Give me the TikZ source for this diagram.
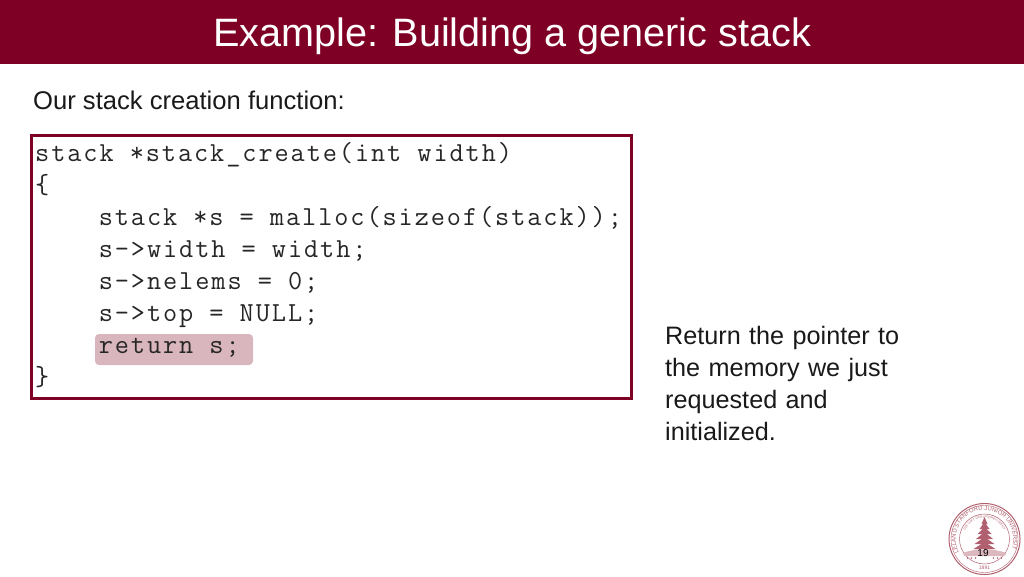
\documentclass[tikz,border=0pt]{standalone}
\usepackage{fontspec}
\setmainfont{Liberation Sans}
\setmonofont[LetterSpace=7]{Latin Modern Mono}
\usetikzlibrary{positioning,shapes.geometric,decorations.text}
\definecolor{cardinal}{HTML}{7F0025}
\definecolor{hilite}{HTML}{D9B5BE}
\definecolor{sealred}{HTML}{B0606E}
\newcommand{\sealtype}{\fontsize{5.9}{6}\selectfont}
\newcommand{\mottotype}{\fontsize{3.2}{4}\selectfont}
\tikzset{
  codeline/.style={inner sep=0pt,anchor=west,text height=19pt,text depth=6pt,text=black!85,
    font=\ttfamily\fontsize{27.5}{32}\selectfont},
  bodytext/.style={inner sep=0pt,anchor=west,text=black!90,font=\fontsize{25.6}{32}\selectfont},
  sealline/.style={draw=sealred,line width=0.7pt}
}
\begin{document}
\begin{tikzpicture}[x=1pt,y=-1pt]
	\useasboundingbox (0,0) rectangle (1024,576);
	\node[fill=cardinal,minimum width=1024pt,minimum height=63.5pt,inner sep=0pt,anchor=north west] (banner) at (0,0) {};
	\node[text=white,inner sep=0pt,font=\fontsize{39.6}{44}\selectfont] (title) at (512,36) {Example: Building a generic stack};
	\node[bodytext] (intro) at (33,100) {Our stack creation function:};

	\node[draw=cardinal,line width=3pt,minimum width=600pt,minimum height=263pt,inner sep=0pt] (codebox) at (331.5,267) {};
	\node[fill=hilite,rounded corners=4pt,minimum width=158pt,minimum height=31pt,inner sep=0pt] (retmark) at (174,349.5) {};

	\node[codeline] (head) at (35,155) {stack *stack\_create(int width)};
	\node[codeline,below=32pt of head.west,anchor=west] (openbr) {\{};
	\node[codeline,below=32pt of openbr.west,anchor=west,xshift=63.6pt] (malloc) {stack *s = malloc(sizeof(stack));};
	\node[codeline,below=32pt of malloc.west,anchor=west] (width) {s->width = width;};
	\node[codeline,below=32pt of width.west,anchor=west] (nelems) {s->nelems = 0;};
	\node[codeline,below=32pt of nelems.west,anchor=west] (top) {s->top = NULL;};
	\node[codeline,below=32pt of top.west,anchor=west] (ret) {return s;};
	\node[codeline,below=192pt of openbr.west,anchor=west] (closebr) {\}};

	\node[bodytext,font=\fontsize{25.2}{32}\selectfont,text width=260pt,align=left,anchor=north west] (note) at (665,326) {Return the pointer to\\the memory we just\\requested and\\initialized.};

	% seal
	\node[circle,draw=sealred,line width=1pt,minimum size=71pt,inner sep=0pt] (seal) at (984.5,539) {};
	\begin{scope}[shift={(seal.center)},x=1pt,y=1pt]
		\draw[sealline,line width=0.4pt] (0,0) circle (33.5pt);
		\draw[sealline,line width=0.5pt] (0,0) circle (25pt);
		\path[decorate,decoration={text along path,text align=center,text color=sealred,
			text={|\sealtype|LELAND STANFORD JUNIOR UNIVERSITY}}]
			(-27.2,-9.4) arc[start angle=199,end angle=-19,radius=28.8pt];
		\path[decorate,decoration={text along path,text align=center,text color=sealred,
			text={|\mottotype|DIE LUFT DER FREIHEIT WEHT}}]
			(-21,0) arc[start angle=180,end angle=0,radius=21pt];
		\fill[sealred] (-1,-16) rectangle (1,6);
		\foreach \ty/\tw in {-10/11,-5/10,0/8.5,5/7,10/5,15/3}
			\fill[sealred] (-\tw pt,\ty pt) -- (\tw pt,\ty pt) -- (0,\ty pt+7pt) -- cycle;
		\fill[sealred!45] (-22,-14) .. controls (-8,-9) and (8,-9) .. (22,-14) -- (20,-17) -- (-20,-17) -- cycle;
		\foreach \dx in {-17,-13,-9,9,13,17}
			\fill[sealred] (\dx pt,-19pt) circle (0.9pt);
		\node[inner sep=0pt,text=sealred,font=\fontsize{5}{6}\selectfont] (sealyear) at (0,-28.5) {1891};
	\end{scope}
	\node[inner sep=0pt,text=black,font=\fontsize{10}{12}\selectfont] (pagenum) at (983,553.5) {19};
\end{tikzpicture}
\end{document}
